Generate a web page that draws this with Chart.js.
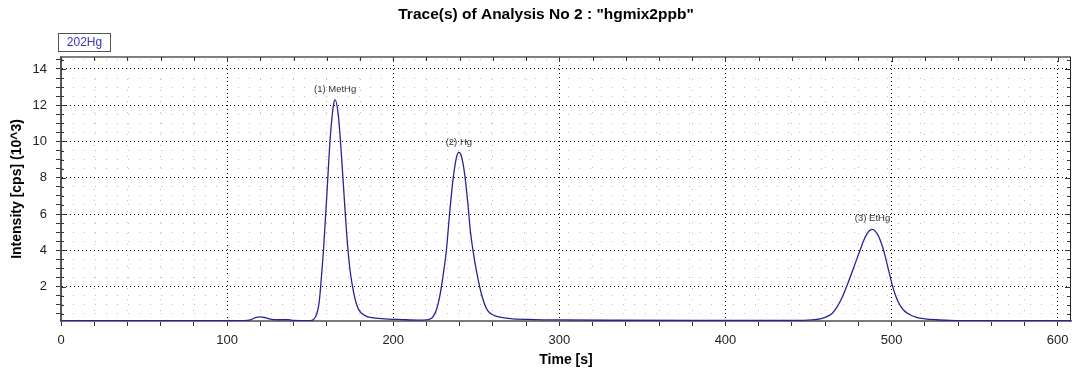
<!DOCTYPE html>
<html>
<head>
<meta charset="utf-8">
<title>Trace(s) of Analysis No 2</title>
<script src="https://cdn.jsdelivr.net/npm/chart.js@4.4.0/dist/chart.umd.min.js"></script>
<style>
  html, body { margin: 0; padding: 0; background: #fff; }
  #wrap { width: 1072px; height: 375px; }
</style>
</head>
<body>
<div id="wrap"><canvas id="traceChart" width="1072" height="375"></canvas></div>
<script>
// trace 202Hg, time in s, intensity in cps x 10^3
const traceName = '202Hg';
const times = [
  0, 110, 114, 117, 120, 123, 126, 130, 137, 140,
  150, 152, 154, 155.5, 157, 158, 160, 162, 164, 165,
  167, 169, 171, 172.5, 174, 176, 178, 180, 183, 187,
  195, 205, 215, 220, 222, 224, 226, 228, 230, 232,
  234, 236, 238, 239.5, 241, 243, 245, 246.5, 248, 250,
  252, 254, 256, 258, 261, 265, 272, 285, 300, 330,
  380, 440, 452, 457, 460, 464, 467, 470, 472.5, 475,
  477, 479, 481, 483, 485, 487, 488.5, 490, 492, 494,
  495.5, 497, 499, 500.5, 502, 504, 507, 510, 515, 520,
  527, 535, 545, 608
];
const intensity = [
  0.12, 0.12, 0.16, 0.28, 0.33, 0.28, 0.2, 0.17, 0.17, 0.13,
  0.12, 0.18, 0.5, 1.2, 2.8, 4.0, 7.0, 10.1, 12.0, 12.3,
  11.4, 9.0, 6.2, 4.3, 2.9, 1.75, 1.0, 0.62, 0.4, 0.28,
  0.22, 0.18, 0.15, 0.16, 0.2, 0.34, 0.72, 1.46, 2.6, 4.0,
  6.1, 7.9, 9.1, 9.4, 9.2, 8.2, 6.5, 5.0, 4.0, 2.9,
  2.0, 1.3, 0.8, 0.55, 0.4, 0.3, 0.22, 0.18, 0.16, 0.14,
  0.13, 0.13, 0.16, 0.22, 0.3, 0.5, 0.85, 1.35, 1.9, 2.5,
  3.0, 3.5, 4.0, 4.5, 4.88, 5.1, 5.15, 5.07, 4.8, 4.35,
  3.9, 3.35, 2.6, 2.05, 1.6, 1.15, 0.72, 0.5, 0.3, 0.22,
  0.17, 0.14, 0.12, 0.12
];

const peakNames = ['(1) MetHg', '(2) Hg', '(3) EtHg'];
const peakTimes = [165, 239.5, 488.5];
const peakLabelLevels = [12.9, 9.95, 5.75];

const xTickLabels = [0, 100, 200, 300, 400, 500, 600];
const yTickLabels = [2, 4, 6, 8, 10, 12, 14];

(() => {
  const FONT = "'Liberation Sans', Arial, sans-serif";
  const isMajorX = (v) => xTickLabels.includes(v);
  const isMajorY = (v) => yTickLabels.includes(v);

  const gridColor = (isMajor) => (ctx) => {
    if (!ctx.tick) return '#000';
    return isMajor(ctx.tick.value) ? '#000' : '#bdbdbd';
  };
  const gridDash = (isMajor) => (ctx) => {
    if (!ctx.tick) return [];
    return isMajor(ctx.tick.value) ? [1, 3] : [1, 10];
  };

  // top / right frame with mirrored ticks, plus inner half of the left ticks
  const framePlugin = {
    id: 'frame',
    afterDraw(chart) {
      const { ctx, chartArea: a, scales: { x, y } } = chart;
      ctx.save();
      ctx.lineWidth = 2;
      ctx.strokeStyle = '#808080';
      ctx.beginPath();
      ctx.moveTo(a.left, a.top);
      ctx.lineTo(a.right, a.top);
      ctx.stroke();
      ctx.lineWidth = 1;
      ctx.strokeStyle = '#222';
      ctx.beginPath();
      ctx.moveTo(a.right - 0.5, a.top);
      ctx.lineTo(a.right - 0.5, a.bottom);
      ctx.stroke();

      ctx.strokeStyle = '#333';
      ctx.beginPath();
      x.ticks.forEach((t) => {
        const px = Math.round(x.getPixelForValue(t.value)) + 0.5;
        ctx.moveTo(px, a.top);
        ctx.lineTo(px, a.top + (isMajorX(t.value) ? 5 : 4));
      });
      y.ticks.forEach((t) => {
        const py = Math.round(y.getPixelForValue(t.value)) + 0.5;
        const len = isMajorY(t.value) ? 6 : 4;
        ctx.moveTo(a.right, py);
        ctx.lineTo(a.right - len, py);
        ctx.moveTo(a.left, py);
        ctx.lineTo(a.left + len - 1, py);
      });
      ctx.stroke();
      ctx.restore();
    }
  };

  const peakLabelPlugin = {
    id: 'peakLabels',
    afterDatasetsDraw(chart) {
      const { ctx, scales: { x, y } } = chart;
      ctx.save();
      ctx.font = `9.5px ${FONT}`;
      ctx.fillStyle = '#333';
      ctx.textAlign = 'center';
      ctx.textBaseline = 'middle';
      peakNames.forEach((name, i) => {
        ctx.fillText(name, x.getPixelForValue(peakTimes[i]), y.getPixelForValue(peakLabelLevels[i]));
      });
      ctx.restore();
    }
  };

  const traceBoxPlugin = {
    id: 'traceBox',
    afterDraw(chart) {
      const { ctx } = chart;
      const label = chart.data.datasets[0].label;
      ctx.save();
      ctx.fillStyle = '#fff';
      ctx.fillRect(58, 33, 52, 19);
      ctx.strokeStyle = '#555';
      ctx.lineWidth = 1;
      ctx.strokeRect(58.5, 33.5, 52, 18);
      ctx.font = `12px ${FONT}`;
      ctx.fillStyle = '#3535c0';
      ctx.textAlign = 'center';
      ctx.textBaseline = 'middle';
      ctx.fillText(label, 84.5, 43);
      ctx.restore();
    }
  };

  const ctx = document.getElementById('traceChart').getContext('2d');
  new Chart(ctx, {
    type: 'line',
    data: {
      datasets: [{
        label: traceName,
        data: times.map((t, i) => ({ x: t, y: intensity[i] })),
        borderColor: '#24249a',
        borderWidth: 1.3,
        pointRadius: 0,
        fill: false,
        cubicInterpolationMode: 'monotone'
      }]
    },
    options: {
      responsive: false,
      animation: false,
      layout: { padding: { left: 21, right: 1, top: 0, bottom: 0 } },
      plugins: {
        legend: { display: false },
        tooltip: { enabled: false },
        title: {
          display: true,
          text: 'Trace(s) of Analysis No 2 : "hgmix2ppb"',
          color: '#000',
          font: { family: FONT, size: 15.5, weight: 'bold' },
          padding: { top: 5, bottom: 33.4 }
        }
      },
      scales: {
        x: {
          type: 'linear',
          min: 0,
          max: 608,
          afterFit: (s) => {
            s.height = 54;
            s.paddingLeft = 0;
            s.paddingRight = 0;
          },
          ticks: {
            stepSize: 20,
            includeBounds: false,
            autoSkip: false,
            maxRotation: 0,
            padding: 7,
            color: '#222',
            font: { family: FONT, size: 13 },
            callback: (v) => (isMajorX(v) ? v : '')
          },
          grid: {
            color: gridColor(isMajorX),
            lineWidth: 1,
            drawTicks: true,
            tickLength: 5,
            tickColor: '#333',
            tickBorderDash: []
          },
          border: { display: true, color: '#7a7a7a', width: 2, dash: gridDash(isMajorX) },
          title: {
            display: true,
            text: 'Time [s]',
            color: '#000',
            font: { family: FONT, size: 14, weight: 'bold' },
            padding: { top: 0, bottom: 6.6 }
          }
        },
        y: {
          type: 'linear',
          min: 0.1,
          max: 14.66,
          afterFit: (s) => { s.width = 40; },
          ticks: {
            stepSize: 0.5,
            includeBounds: false,
            autoSkip: false,
            padding: 9,
            color: '#222',
            font: { family: FONT, size: 13 },
            callback: (v) => (isMajorY(v) ? v : '')
          },
          grid: {
            color: gridColor(isMajorY),
            lineWidth: 1,
            drawTicks: true,
            tickLength: 5,
            tickColor: '#333',
            tickBorderDash: []
          },
          border: { display: true, color: '#555', width: 2, dash: gridDash(isMajorY) },
          title: {
            display: true,
            text: 'Intensity [cps] (10^3)',
            color: '#000',
            font: { family: FONT, size: 14, weight: 'bold' },
            padding: { top: -12.7, bottom: 0 }
          }
        }
      }
    },
    plugins: [framePlugin, peakLabelPlugin, traceBoxPlugin]
  });
})();
</script>
</body>
</html>
